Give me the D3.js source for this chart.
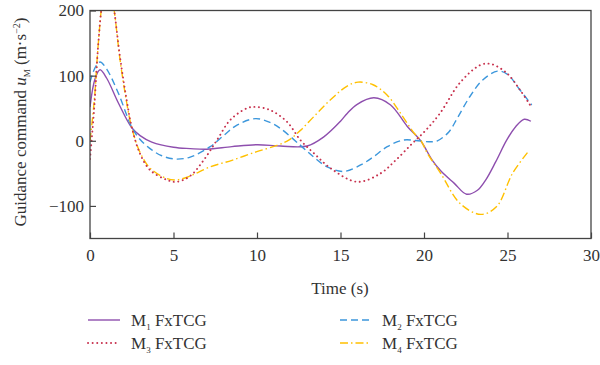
<!DOCTYPE html>
<html><head><meta charset="utf-8">
<script src="https://cdn.jsdelivr.net/npm/d3@7"></script>
<style>body{margin:0;background:#fff}svg{display:block}text{font-family:"Liberation Serif","DejaVu Serif",serif;fill:#333}</style>
</head><body><svg id="c" width="600" height="365"></svg>
<script>
const xTicks = [0,5,10,15,20,25,30];
const yTicks = [-100,0,100,200];
const seriesNames = ["M1","M2","M3","M4"];
const m1T = [0,0.3,0.6,1.0,1.7,2.5,3.0,3.7,5,6,7,8.5,10,11.4,13,14,15,15.4,16,17,18,19,19.8,20.5,21,21.8,22.55,23.2,23.7,24.3,24.95,25.5,26,26.4];
const m1V = [52,95,109,96,58,20,8,-2,-10,-12,-13,-9,-6,-8,-8,6,30,42,56,66,55,22,0,-30,-46,-65,-82,-76,-60,-32,1,22,33,30];
const m2T = [0,0.3,0.6,1.0,1.7,2.5,3.0,3.7,4.3,5.1,6,7.2,8,8.8,9.9,10.8,11.4,12.6,13.4,14.2,15.2,16.35,17,17.8,18.75,19.5,20.3,20.8,21.5,22,22.75,23.5,24.4,25,25.75,26.45];
const m2V = [90,112,121,110,73,21,2,-14,-23,-28,-25,-9,8,24,34,28,19,-7,-25,-40,-47,-35,-24,-9,1,0.5,-1.5,0,14,35,68,93,107,102,78,55];
const m3T = [0,0.25,0.5,0.75,1.1,1.45,1.8,2.2,2.5,3.0,3.6,4.6,5.2,6,6.8,7.6,8.4,9.4,9.9,10.8,11.8,12.6,13.4,14.4,16,17.4,18.3,19.3,20.1,20.95,22.15,23.35,24,24.95,25.75,26.35];
const m3V = [-28,50,150,215,255,200,128,62,21,-20,-45,-60,-63,-54,-30,1,32,50,52,47,29,1,-19,-42,-63,-50,-30,-4,16,42,89,116,118,104,78,55];
const m4T = [0,0.25,0.5,0.75,1.1,1.45,1.8,2.2,2.5,3.0,3.6,4.6,5.2,6,7.2,8.5,9.95,11.2,11.9,12.6,13.4,14.4,15.4,16.05,16.95,17.8,18.6,19.4,19.8,20.2,21,22.15,23.4,24.35,25.3,26.2];
const m4V = [0,60,150,215,255,200,124,58,20,-18,-42,-58,-60,-54,-40,-30,-17,-7,1,16,37,63,84,90,86,70,42,12,1,-19,-50,-96,-113,-101,-50,-18];

const svg = d3.select("#c");
const L=90,R=591,T=10.5,B=238.5;
const FS=17;
const x = d3.scaleLinear().domain([0,30]).range([L,R]);
const y = d3.scaleLinear().domain([-150,200]).range([B,T]);

svg.append("clipPath").attr("id","clip").append("rect").attr("x",L).attr("y",T).attr("width",R-L).attr("height",B-T);

const styles = [
  {c:"#8e4fae",d:null,w:1.4,cap:"butt"},
  {c:"#3c97dc",d:"7,4",w:1.4,cap:"butt"},
  {c:"#c8324e",d:"0.1,4.5",w:1.9,cap:"round"},
  {c:"#ffc000",d:"8,3,1.5,3",w:1.4,cap:"butt"}
];
const data = [[m1T,m1V],[m2T,m2V],[m3T,m3V],[m4T,m4V]];
const line = d3.line().x(d=>x(d[0])).y(d=>y(d[1])).curve(d3.curveCatmullRom.alpha(0.5));
const g = svg.append("g").attr("clip-path","url(#clip)");
[0,1,3,2].forEach(i=>{
  const pts = data[i][0].map((t,k)=>[t,data[i][1][k]]);
  g.append("path").attr("d",line(pts)).attr("fill","none").attr("stroke",styles[i].c)
   .attr("stroke-width",styles[i].w).attr("stroke-dasharray",styles[i].d).attr("stroke-linecap",styles[i].cap);
});

// frame
svg.append("rect").attr("x",L).attr("y",T).attr("width",R-L).attr("height",B-T).attr("fill","none").attr("stroke","#444").attr("stroke-width",1.3);

const xa = svg.append("g").attr("transform",`translate(0,${B})`).call(d3.axisBottom(x).tickValues(xTicks).tickSizeInner(-6).tickSizeOuter(0).tickPadding(8));
const ya = svg.append("g").attr("transform",`translate(${L},0)`).call(d3.axisLeft(y).tickValues(yTicks).tickSizeInner(-6).tickSizeOuter(0).tickPadding(6).tickFormat(d=>d<0?"\u2212"+Math.abs(d):d));
[xa,ya].forEach(a=>{a.select(".domain").remove();a.selectAll("line").attr("stroke","#444").attr("stroke-width",1.2);a.selectAll("text").attr("font-size",FS).attr("font-family","Liberation Serif").attr("fill","#333");});
xa.selectAll("text").attr("dy","0.85em");

svg.append("text").attr("x",340).attr("y",294).attr("text-anchor","middle").attr("font-size",FS).text("Time (s)");

const yl = svg.append("text").attr("transform","translate(26,122) rotate(-90)").attr("text-anchor","middle").attr("font-size",FS);
yl.append("tspan").text("Guidance command ");
yl.append("tspan").attr("font-style","italic").text("u");
yl.append("tspan").attr("font-size",9).attr("dy",4).text("M");
yl.append("tspan").attr("dy",-4).text(" (m\u00b7s");
yl.append("tspan").attr("font-size",10).attr("dy",-6).text("\u22122");
yl.append("tspan").attr("dy",6).text(")");

const legPos = [[88,120,131,326],[340,370,382,326],[88,120,131,349],[340,370,382,349]];
const subs = ["1","2","3","4"];
legPos.forEach((p,i)=>{
  svg.append("line").attr("x1",p[0]).attr("x2",p[1]).attr("y1",p[3]-6).attr("y2",p[3]-6)
    .attr("stroke",styles[i].c).attr("stroke-width",styles[i].w).attr("stroke-dasharray",styles[i].d).attr("stroke-linecap",styles[i].cap);
  const t = svg.append("text").attr("x",p[2]).attr("y",p[3]).attr("font-size",FS);
  t.append("tspan").text("M");
  t.append("tspan").attr("font-size",9).attr("dy",4).text(subs[i]);
  t.append("tspan").attr("dy",-4).text(" FxTCG");
});
</script></body></html>
